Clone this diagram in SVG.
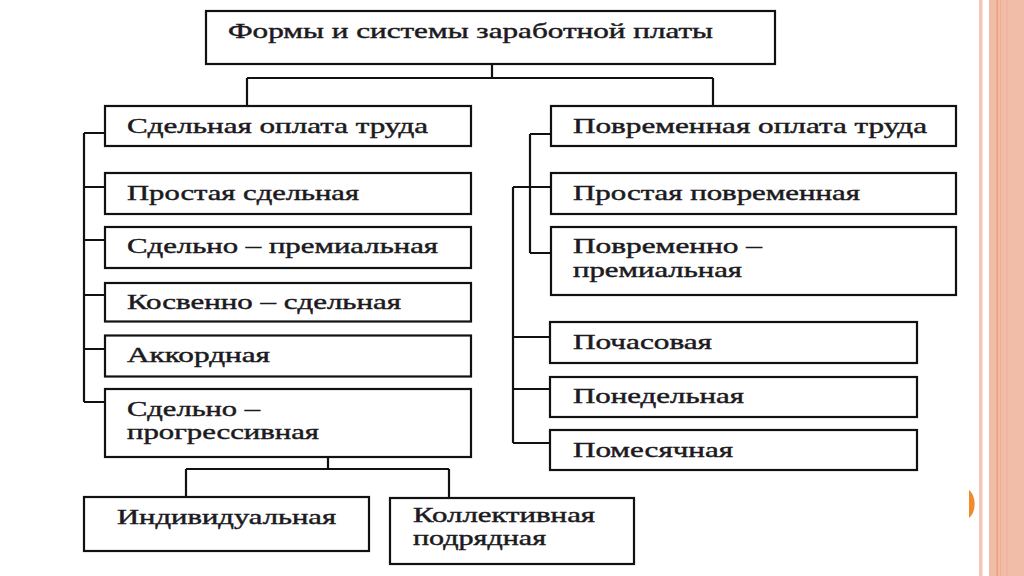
<svg xmlns="http://www.w3.org/2000/svg" width="1024" height="576" viewBox="0 0 1024 576">
<style>
.box{fill:#fff;stroke:#111;stroke-width:2.2}
.t{font-family:"Liberation Serif","Times New Roman",serif;font-size:22px;fill:#1c1a1e;stroke:#1c1a1e;stroke-width:0.45}
.c{fill:none;stroke:#111;stroke-width:2.2}
</style>
<rect width="1024" height="576" fill="#fff"/>
<g id="decor">
<rect x="979" y="0" width="3.5" height="576" fill="#f6c5b3"/>
<rect x="989" y="0" width="35" height="576" fill="#f1bda9"/>
<rect x="996.5" y="0" width="1.5" height="576" fill="#eb9f7e"/>
<rect x="1000" y="0" width="1" height="576" fill="#eeae93"/>
<rect x="1006.5" y="0" width="1" height="576" fill="#eeb29a"/>
<path d="M969 490 C976.5 496 976.5 512 969 518 Z" fill="#f28a2c"/>
</g>
<g id="connectors">
<path class="c" d="M492 64V78M247 78H713M247 78V106M713 78V106"/>
<path class="c" d="M84 133V402M84 133H105M84 187H105M84 240H105M84 295H105M84 349H105M84 402H105"/>
<path class="c" d="M328 457V469M186 469H449M186 469V497M449 469V498"/>
<path class="c" d="M530 134V253M530 134H551M530 253H551"/>
<path class="c" d="M513 187V443M513 187H551M513 337H550M513 389H550M513 443H550"/>
</g>
<g id="n-root"><rect class="box" x="206" y="11" width="569" height="53"/><text class="t" x="228" y="38" textLength="485" lengthAdjust="spacingAndGlyphs">Формы и системы заработной платы</text></g>
<g id="n-piece"><rect class="box" x="105" y="106" width="366" height="40"/><text class="t" x="127" y="133" textLength="301" lengthAdjust="spacingAndGlyphs">Сдельная оплата труда</text></g>
<g id="n-simple-piece"><rect class="box" x="105" y="173" width="366" height="41"/><text class="t" x="127" y="200" textLength="232" lengthAdjust="spacingAndGlyphs">Простая сдельная</text></g>
<g id="n-piece-bonus"><rect class="box" x="105" y="227" width="366" height="41"/><text class="t" x="127" y="253" textLength="311" lengthAdjust="spacingAndGlyphs">Сдельно – премиальная</text></g>
<g id="n-indirect"><rect class="box" x="105" y="283" width="366" height="38.5"/><text class="t" x="127" y="308.5" textLength="274" lengthAdjust="spacingAndGlyphs">Косвенно – сдельная</text></g>
<g id="n-accord"><rect class="box" x="105" y="335.5" width="366" height="41"/><text class="t" x="127" y="362" textLength="143" lengthAdjust="spacingAndGlyphs">Аккордная</text></g>
<g id="n-progressive"><rect class="box" x="105" y="389" width="366" height="68"/><text class="t" x="127" y="415.5" textLength="133" lengthAdjust="spacingAndGlyphs">Сдельно –</text><text class="t" x="127" y="439" textLength="192" lengthAdjust="spacingAndGlyphs">прогрессивная</text></g>
<g id="n-individual"><rect class="box" x="84" y="497" width="285" height="54"/><text class="t" x="117" y="524" textLength="219" lengthAdjust="spacingAndGlyphs">Индивидуальная</text></g>
<g id="n-collective"><rect class="box" x="390" y="498" width="244" height="66"/><text class="t" x="413" y="522" textLength="182" lengthAdjust="spacingAndGlyphs">Коллективная</text><text class="t" x="413" y="545" textLength="133" lengthAdjust="spacingAndGlyphs">подрядная</text></g>
<g id="n-time"><rect class="box" x="551" y="106" width="405" height="40"/><text class="t" x="573" y="133" textLength="354" lengthAdjust="spacingAndGlyphs">Повременная оплата труда</text></g>
<g id="n-simple-time"><rect class="box" x="551" y="173" width="405" height="41"/><text class="t" x="573" y="200" textLength="287" lengthAdjust="spacingAndGlyphs">Простая повременная</text></g>
<g id="n-time-bonus"><rect class="box" x="551" y="227" width="405" height="68"/><text class="t" x="573" y="253" textLength="189" lengthAdjust="spacingAndGlyphs">Повременно –</text><text class="t" x="573" y="277" textLength="169" lengthAdjust="spacingAndGlyphs">премиальная</text></g>
<g id="n-hourly"><rect class="box" x="550" y="322" width="367" height="41"/><text class="t" x="573" y="348.5" textLength="139" lengthAdjust="spacingAndGlyphs">Почасовая</text></g>
<g id="n-weekly"><rect class="box" x="550" y="377" width="367" height="40"/><text class="t" x="573" y="402.5" textLength="171" lengthAdjust="spacingAndGlyphs">Понедельная</text></g>
<g id="n-monthly"><rect class="box" x="550" y="430" width="367" height="40"/><text class="t" x="573" y="456.5" textLength="160" lengthAdjust="spacingAndGlyphs">Помесячная</text></g>
</svg>
